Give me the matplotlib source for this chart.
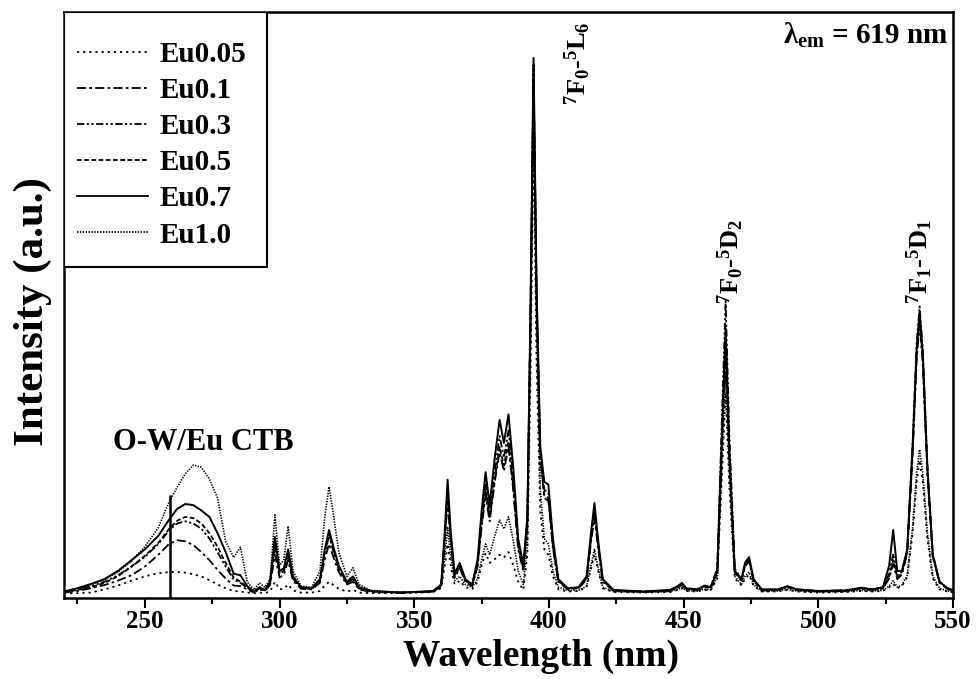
import matplotlib
matplotlib.use("Agg")
import matplotlib.pyplot as plt
from matplotlib.ticker import MultipleLocator
from matplotlib.patches import Rectangle

plt.rcParams['font.family'] = ['Liberation Serif', 'DejaVu Serif']
plt.rcParams['font.weight'] = 'bold'
plt.rcParams['mathtext.fontset'] = 'custom'
plt.rcParams['mathtext.rm'] = 'Liberation Serif:bold'
plt.rcParams['mathtext.it'] = 'Liberation Serif:bold'
plt.rcParams['mathtext.bf'] = 'Liberation Serif:bold'

# ---------------- data ----------------
wavelength = [
    # CTB region
    220, 225, 230, 235, 240, 245, 250, 255, 259, 262, 265, 268, 271, 274, 277, 280, 283, 285.5, 288, 290.5, 292.6, 294.5,
    # 296-334
    296.5, 298.3, 300, 301.6, 303.2, 305, 308, 312, 315, 316.8, 318.4, 320, 322, 325, 327.3, 329.5, 334,
    # 345-372
    345, 357, 360, 361.3, 362.4, 363.6, 365, 366.9, 369, 371.5,
    # 373-407
    373.5, 375, 376.5, 378, 379.9, 381.7, 383.3, 385, 386.8, 388.6, 390.5, 392, 393.2, 394.3, 395.4, 396.8, 398.3, 399.8, 401.5, 403.5, 407,
    # 411-424
    411, 414, 415.6, 416.9, 418.2, 420, 424,
    # 435-479
    435, 445, 447.8, 449.4, 451, 455, 457.8, 460, 462.5, 464.2, 465.6, 467, 469, 471.5, 472.8, 474.3, 476, 479,
    # 485-551
    485, 488.5, 492, 500, 510, 516, 520, 524, 526.3, 527.8, 529.3, 531, 533, 535, 536.5, 537.6, 538.8, 540.5, 542.5, 545, 548, 551,
]

eu005 = [
    0.9, 0.9, 1.0, 1.6, 2.3, 3.2, 4.0, 4.6, 4.8, 4.8, 4.7, 4.4, 4.0, 3.3, 2.5, 1.8, 1.3, 1.2, 1.0, 0.9, 1.0, 0.9,
    1.2, 3.0, 1.6, 1.7, 2.5, 1.4, 1.0, 1.0, 1.3, 2.3, 3.0, 2.4, 1.7, 1.2, 1.5, 1.0, 0.9,
    0.9, 1.1, 1.8, 5.8, 10.0, 5.8, 2.5, 3.2, 2.0, 1.6,
    3.0, 6.0, 8.3, 6.5, 7.2, 8.0, 7.5, 8.5, 6.0, 3.0, 1.5, 8.0, 42.0, 85.0, 44.0, 16.0, 9.0, 8.0, 4.0, 1.6, 1.2,
    1.3, 2.0, 5.4, 8.0, 5.2, 1.8, 1.1,
    1.0, 1.1, 1.5, 1.8, 1.3, 1.2, 1.5, 1.4, 3.6, 22.5, 38.0, 20.5, 3.6, 2.3, 3.6, 4.3, 2.2, 1.2,
    1.2, 1.5, 1.2, 1.0, 1.1, 1.3, 1.2, 1.3, 2.0, 2.6, 1.8, 2.2, 3.8, 12.0, 21.5, 25.5, 21.5, 11.0, 3.6, 1.6, 1.2, 1.0,
]

eu01 = [
    1.0, 1.3, 1.8, 2.4, 3.2, 4.2, 5.8, 8.0, 10.0, 10.7, 10.5, 9.8, 8.5, 7.0, 5.2, 3.6, 2.3, 2.2, 1.6, 1.0, 1.6, 1.3,
    2.4, 8.0, 3.8, 4.3, 7.0, 3.2, 1.7, 1.6, 2.8, 7.2, 10.0, 7.6, 4.8, 2.5, 3.0, 1.6, 1.1,
    1.0, 1.2, 2.2, 10.0, 18.0, 10.0, 3.8, 5.5, 3.0, 2.2,
    5.8, 13.0, 19.0, 14.2, 21.5, 27.0, 23.5, 28.0, 19.8, 9.0, 5.0, 14.0, 53.5, 98.0, 56.5, 26.0, 18.5, 18.0, 9.2, 3.0, 1.6,
    1.8, 3.4, 10.2, 15.0, 9.4, 3.0, 1.3,
    1.1, 1.3, 1.9, 2.4, 1.6, 1.4, 2.0, 1.8, 4.7, 28.5, 48.0, 26.0, 4.7, 3.2, 5.8, 6.8, 3.1, 1.4,
    1.5, 2.0, 1.5, 1.2, 1.3, 1.7, 1.5, 1.8, 3.6, 6.3, 3.5, 4.3, 8.2, 26.5, 44.0, 51.0, 43.0, 23.0, 7.6, 2.8, 1.7, 1.2,
]

eu03 = [
    1.1, 1.6, 2.2, 3.0, 4.2, 5.8, 7.6, 10.0, 12.5, 13.8, 14.2, 13.8, 12.8, 11.0, 8.5, 5.8, 3.4, 2.8, 1.9, 1.1, 1.8, 1.4,
    2.8, 10.5, 4.6, 5.0, 8.0, 3.6, 1.9, 1.7, 3.2, 8.3, 11.5, 8.6, 5.4, 2.8, 3.5, 1.8, 1.2,
    1.0, 1.2, 2.4, 11.0, 20.0, 11.0, 4.2, 6.0, 3.3, 2.4,
    6.5, 14.5, 21.0, 15.5, 23.5, 30.0, 26.0, 31.0, 22.0, 10.0, 5.6, 14.5, 54.0, 99.0, 57.0, 27.0, 20.0, 19.5, 10.0, 3.3, 1.7,
    1.9, 3.8, 11.2, 16.5, 10.3, 3.3, 1.4,
    1.2, 1.4, 2.0, 2.6, 1.7, 1.5, 2.2, 2.0, 5.5, 33.0, 55.0, 30.0, 5.5, 3.4, 6.2, 7.2, 3.3, 1.5,
    1.6, 2.1, 1.6, 1.3, 1.4, 1.8, 1.6, 1.9, 4.5, 8.2, 4.2, 4.8, 9.0, 28.5, 47.0, 54.0, 46.0, 24.5, 8.0, 3.0, 1.8, 1.3,
]

eu05 = [
    1.1, 1.5, 2.0, 2.8, 4.0, 5.8, 7.8, 10.2, 12.8, 14.3, 15.0, 14.8, 13.8, 12.0, 9.5, 6.5, 3.8, 3.0, 2.0, 1.1, 1.8, 1.4,
    2.8, 10.0, 4.5, 5.0, 8.5, 3.6, 1.9, 1.7, 3.2, 8.5, 12.0, 9.0, 5.5, 2.8, 3.5, 1.8, 1.2,
    1.0, 1.2, 2.3, 10.5, 19.0, 10.5, 4.0, 5.8, 3.2, 2.3,
    6.0, 13.5, 20.0, 14.8, 22.0, 28.0, 24.5, 29.0, 20.5, 9.5, 5.3, 14.0, 53.0, 97.0, 56.0, 26.0, 19.0, 18.5, 9.5, 3.2, 1.7,
    1.9, 3.6, 10.8, 16.0, 10.0, 3.2, 1.4,
    1.2, 1.4, 2.0, 2.6, 1.7, 1.5, 2.1, 1.9, 4.8, 29.0, 49.0, 26.5, 4.8, 3.3, 6.0, 7.0, 3.2, 1.5,
    1.5, 2.0, 1.5, 1.3, 1.4, 1.8, 1.5, 1.8, 4.0, 7.0, 3.8, 4.5, 8.5, 27.0, 45.0, 52.0, 44.0, 23.5, 7.8, 2.9, 1.7, 1.3,
]

eu07 = [
    1.2, 1.8, 2.6, 3.5, 5.0, 7.0, 9.0, 11.5, 14.5, 16.5, 17.4, 17.2, 16.2, 15.0, 12.0, 8.5, 4.5, 4.2, 2.2, 1.2, 2.0, 1.5,
    3.0, 11.3, 5.0, 5.5, 9.0, 4.0, 2.0, 1.8, 3.5, 9.0, 12.6, 9.5, 6.0, 3.0, 4.0, 2.0, 1.3,
    1.0, 1.3, 2.5, 12.0, 21.9, 12.0, 4.5, 6.5, 3.5, 2.5,
    7.0, 16.0, 23.3, 17.2, 26.0, 33.0, 28.7, 34.0, 24.0, 11.0, 6.1, 15.0, 55.0, 100.0, 58.0, 28.0, 21.5, 21.0, 11.0, 3.5, 1.8,
    2.0, 4.0, 12.0, 17.6, 11.0, 3.5, 1.5,
    1.2, 1.5, 2.2, 2.8, 1.8, 1.6, 2.3, 2.0, 5.0, 30.0, 50.0, 27.0, 5.0, 3.5, 6.5, 7.6, 3.5, 1.6,
    1.6, 2.2, 1.6, 1.3, 1.4, 1.9, 1.6, 2.0, 6.0, 12.6, 5.0, 5.0, 9.0, 28.0, 46.0, 53.0, 45.0, 24.0, 8.0, 3.0, 1.8, 1.3,
]

eu10 = [
    1.2, 1.8, 2.5, 3.4, 4.8, 6.8, 9.5, 13.0, 17.8, 20.5, 23.0, 24.6, 24.2, 22.0, 18.5, 10.5, 7.5, 9.4, 3.0, 1.5, 2.8, 2.0,
    3.5, 15.4, 6.0, 7.0, 13.3, 5.0, 2.2, 2.0, 5.0, 15.0, 20.6, 15.5, 8.5, 4.0, 5.6, 2.5, 1.4,
    1.0, 1.2, 2.0, 7.5, 13.0, 7.5, 3.2, 4.0, 2.5, 2.0,
    3.5, 7.0, 10.0, 8.0, 11.5, 14.4, 12.8, 15.0, 10.5, 5.0, 2.5, 10.0, 48.0, 93.0, 50.0, 20.0, 11.0, 10.0, 5.0, 2.0, 1.4,
    1.4, 2.2, 6.0, 9.0, 5.8, 2.0, 1.2,
    1.1, 1.2, 1.6, 1.9, 1.4, 1.3, 1.6, 1.5, 4.0, 25.0, 42.0, 22.5, 4.0, 2.5, 4.0, 4.8, 2.4, 1.3,
    1.3, 1.6, 1.3, 1.1, 1.2, 1.4, 1.3, 1.4, 2.2, 3.2, 2.0, 2.4, 4.2, 13.0, 23.0, 27.5, 23.0, 12.0, 4.0, 1.8, 1.3, 1.1,
]

labels = ['Eu0.05', 'Eu0.1', 'Eu0.3', 'Eu0.5', 'Eu0.7', 'Eu1.0']
ctb_marker = 259.4
ctb_marker_top = 19.1

# ---------------- figure ----------------
W, H = 979, 679
fig = plt.figure(figsize=(W / 100, H / 100), dpi=100)
ax = fig.add_axes([64 / W, 1 - 598 / H, 889 / W, 586 / H])

styles = [
    dict(ls=(0, (1.2, 2.2)), lw=1.3),
    dict(ls=(0, (5, 1.8, 1.5, 1.8)), lw=1.3),
    dict(ls=(0, (4, 1.4, 1.2, 1.4, 1.2, 1.4)), lw=1.3),
    dict(ls=(0, (2.6, 1.4)), lw=1.3),
    dict(ls='-', lw=1.4),
    dict(ls=(0, (0.8, 0.8)), lw=1.2),
]
series = [eu005, eu01, eu03, eu05, eu07, eu10]
for ys, lab, st in zip(series, labels, styles):
    ax.plot(wavelength, ys, color='black', linestyle=st['ls'], lw=st['lw'], label=lab)

ax.vlines(ctb_marker, 0, ctb_marker_top, color='black', lw=1.8)

ax.set_xlim(220, 550)
ax.set_ylim(0, 108.5)
ax.set_yticks([])
ax.xaxis.set_major_locator(MultipleLocator(50))
ax.xaxis.set_minor_locator(MultipleLocator(25))
ax.tick_params(axis='x', which='major', direction='out', length=7, width=1.5, labelsize=18, pad=1.5)
ax.tick_params(axis='x', which='minor', direction='out', length=4, width=1.5)
for s in ax.spines.values():
    s.set_linewidth(1.8)

ax.set_xlabel('Wavelength (nm)', fontsize=27, fontweight='bold')
ax.xaxis.set_label_coords(0.5366, -0.0695)
ax.set_ylabel('Intensity (a.u.)', fontsize=31, fontweight='bold')
ax.yaxis.set_label_coords(-0.0135, 0.488)

# legend frame (anchored at the axes' upper-left corner) and entries
ax.add_patch(Rectangle((0, 0.5648), 0.2283, 0.4352, transform=ax.transAxes,
                       fill=True, facecolor='white', edgecolor='black', lw=1.5, zorder=4))
leg = ax.legend(loc='upper left', bbox_to_anchor=(0.0146, 0.951), borderaxespad=0,
                borderpad=0, fontsize=21, handlelength=2.43, handletextpad=0.41,
                labelspacing=0.315, frameon=False)
leg.set_zorder(5)
for line in leg.get_lines():
    line.set_linewidth(1.3)

ax.text(238.2, 27.4, 'O-W/Eu CTB', fontsize=22, fontweight='bold', ha='left', va='baseline')
ax.text(0.994, 0.985, r'$\lambda_{\mathrm{em}}$ = 619 nm', transform=ax.transAxes,
        fontsize=21, fontweight='bold', ha='right', va='top')

ax.text(410.7, 99, r'$^{7}$F$_{0}$-$^{5}$L$_{6}$', rotation=90, fontsize=19,
        fontweight='bold', ha='center', va='center')
ax.text(467.6, 62.2, r'$^{7}$F$_{0}$-$^{5}$D$_{2}$', rotation=90, fontsize=19,
        fontweight='bold', ha='center', va='center')
ax.text(537.8, 62.2, r'$^{7}$F$_{1}$-$^{5}$D$_{1}$', rotation=90, fontsize=19,
        fontweight='bold', ha='center', va='center')

fig.savefig('out.png', dpi=100)
